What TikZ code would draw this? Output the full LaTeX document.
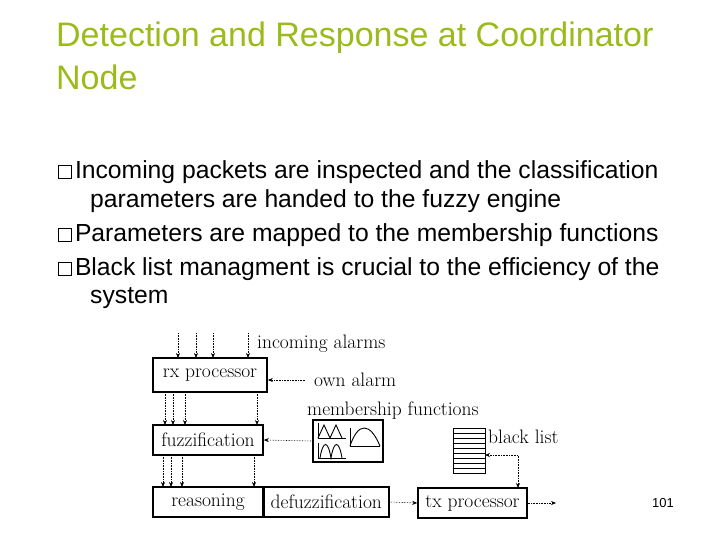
\documentclass[tikz,border=0pt]{standalone}
\usepackage{fontspec}
\setmainfont{Liberation Sans}
\newfontfamily\diag{Latin Modern Roman}
\usetikzlibrary{arrows.meta}
\definecolor{ttl}{HTML}{9BBB1A}
\newcommand{\bsq}{\tikz[baseline=0pt]\draw[line width=0.8pt,x=1pt,y=1pt] (0,0) rectangle (13,13);\hspace{3pt}}
\begin{document}
\begin{tikzpicture}[x=1pt,y=-1pt,
  box/.style={draw,line width=1.6pt,inner sep=0pt,font=\diag\fontsize{19.5}{19.5}\selectfont},
  lab/.style={font=\diag\fontsize{19.5}{19.5}\selectfont,anchor=west,inner sep=0pt},
  da/.style={densely dotted,line width=0.6pt,-{Stealth[length=5pt,width=4pt]}},
  bt/.style={anchor=west,inner sep=0pt,font=\fontsize{24.7}{24.7}\selectfont}]
\useasboundingbox (0,0) rectangle (720,540);
\node[anchor=west,inner sep=0pt,text=ttl,font=\fontsize{34}{34}\selectfont] (t1) at (56,38) {Detection and Response at Coordinator};
\node[anchor=west,inner sep=0pt,text=ttl,font=\fontsize{34}{34}\selectfont] (t2) at (56,77) {Node};
\node[bt] (b1) at (58,172) {\bsq Incoming packets are inspected and the classification};
\node[bt] (b1b) at (90,201) {parameters are handed to the fuzzy engine};
\node[bt] (b2) at (58,235) {\bsq Parameters are mapped to the membership functions};
\node[bt] (b3) at (58,269) {\bsq Black list managment is crucial to the efficiency of the};
\node[bt] (b3b) at (90,298) {system};
% boxes
\node[box,minimum width=114pt,minimum height=34pt] (rx) at (210,375) {rx processor};
\node[box,minimum width=110pt,minimum height=30pt] (fz) at (208,440) {fuzzification};
\node[box,minimum width=110pt,minimum height=30pt] (rs) at (208,502) {reasoning};
\node[box,minimum width=125pt,minimum height=30pt,anchor=west] (df) at (263,502) {defuzzification};
\node[box,minimum width=109pt,minimum height=30pt] (tx) at (472.5,503) {tx processor};
\node[draw,line width=1.2pt,fill=white,minimum width=70pt,minimum height=42pt,inner sep=0pt] (mf) at (348,441) {};
\node[draw,line width=0.8pt,minimum width=32pt,minimum height=45pt,inner sep=0pt] (bl) at (469,450.5) {};
\foreach \i in {1,...,8} \draw[line width=0.8pt] (453,428+5*\i) -- (485,428+5*\i);
% membership glyphs
\draw[line width=0.9pt] (318,423) -- (318,438) -- (346,438);
\draw[line width=0.9pt] (318,438) -- (324,425) -- (330,438) -- (336,425) -- (342,438);
\draw[line width=0.9pt] (318,443) -- (318,458) -- (346,458);
\draw[line width=0.9pt] (320,458) .. controls (323,440) and (328,440) .. (331,458) .. controls (334,440) and (339,440) .. (342,458);
\draw[line width=0.9pt] (350,428) -- (350,446) -- (380,446);
\draw[line width=0.9pt] (350,446) .. controls (358,422) and (370,422) .. (380,446);
% labels
\node[lab] (ia) at (257,344) {incoming alarms};
\node[lab] (oa) at (314,380) {own alarm};
\node[lab] (mt) at (307,411) {membership functions};
\node[lab] (blt) at (488,437) {black list};
\node[anchor=center,inner sep=0pt,font=\fontsize{13}{13}\selectfont] (pn) at (663,503) {101};
% arrows
\foreach \x in {178,196,213,248} \draw[da] (\x,333) -- (\x,358);
\coordinate (oa1) at (305,380);
\draw[da] (oa1) -- (rx.east |- oa1);
\foreach \x in {165,173,185,257} \draw[da] (\x,392) -- (\x,425);
\foreach \x in {163,171,182,254} \draw[da] (\x,455) -- (\x,487);
\draw[da] (mf.west) -- (fz.east);
\draw[da] (df.east) -- (tx.west);
\coordinate (out) at (556,503);
\draw[da] (tx.east) -- (out);
\coordinate (bl1) at (485,455);
\coordinate (tx1) at (518,488);
\draw[densely dotted,line width=0.6pt,{Stealth[length=5pt,width=4pt]}-{Stealth[length=5pt,width=4pt]}] (bl1) -| (tx1);
\end{tikzpicture}
\end{document}
